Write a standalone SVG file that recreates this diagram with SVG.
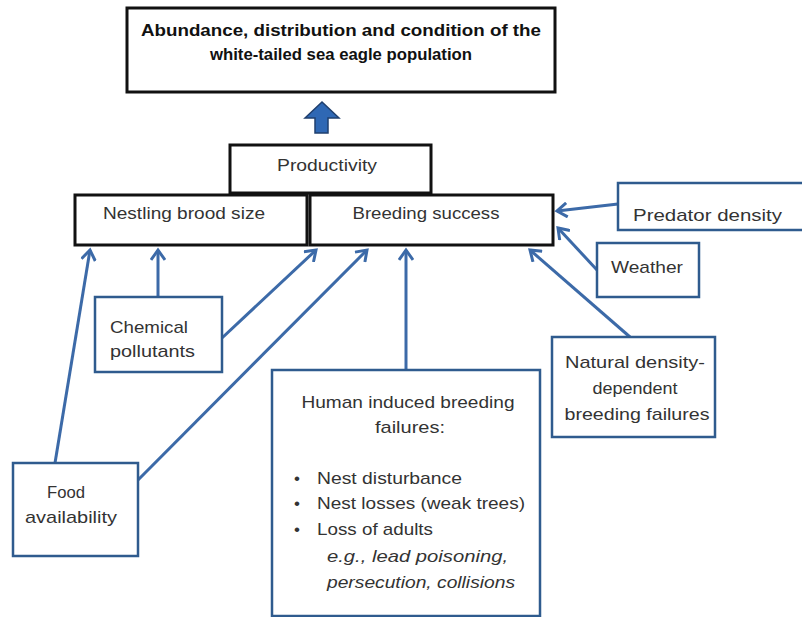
<svg xmlns="http://www.w3.org/2000/svg" width="802" height="617" viewBox="0 0 802 617">
<defs>
<style>
.t{font-family:"Liberation Sans",Arial,sans-serif;font-size:17px;fill:#333}
.b{font-weight:bold;fill:#111;font-size:16.5px}
.i{font-style:italic}
.blk{fill:#fff;stroke:#111;stroke-width:3}
.inp{fill:#fff;stroke:#2f5b8e;stroke-width:2.5}
.con{fill:none;stroke:#3c6aa8;stroke-width:3}
</style>
<marker id="ah" markerUnits="userSpaceOnUse" markerWidth="14" markerHeight="16" refX="11" refY="8" orient="auto" viewBox="0 0 14 16">
<path d="M1,1 L11,8 L1,15" fill="none" stroke="#3c6aa8" stroke-width="3"/>
</marker>
</defs>
<rect width="802" height="617" fill="#fff"/>
<g id="connectors">
<line class="con" x1="55" y1="463" x2="90" y2="250" marker-end="url(#ah)"/>
<line class="con" x1="138" y1="480" x2="367" y2="250" marker-end="url(#ah)"/>
<line class="con" x1="158" y1="297" x2="158" y2="250" marker-end="url(#ah)"/>
<line class="con" x1="222" y1="338" x2="316" y2="250" marker-end="url(#ah)"/>
<line class="con" x1="406" y1="370" x2="406" y2="250" marker-end="url(#ah)"/>
<line class="con" x1="630" y1="337" x2="530" y2="250" marker-end="url(#ah)"/>
<line class="con" x1="597" y1="270" x2="558" y2="228" marker-end="url(#ah)"/>
<line class="con" x1="618" y1="204" x2="557" y2="211" marker-end="url(#ah)"/>
<polygon points="305,118 322,102 339,118 328,118 328,133 315,133 315,118" fill="#2f68b4" stroke="#1f3f6e" stroke-width="1.5"/>
</g>
<g id="population">
<rect class="blk" x="127" y="8" width="428" height="84"/>
<text class="t b" x="341" y="36" text-anchor="middle" textLength="400" lengthAdjust="spacingAndGlyphs">Abundance, distribution and condition of the</text>
<text class="t b" x="341" y="60" text-anchor="middle" textLength="262" lengthAdjust="spacingAndGlyphs">white-tailed sea eagle population</text>
</g>
<g id="productivity">
<rect class="blk" x="230" y="145" width="201" height="48"/>
<text class="t" x="327" y="171" text-anchor="middle" textLength="100" lengthAdjust="spacingAndGlyphs">Productivity</text>
</g>
<g id="nestling">
<rect class="blk" x="75" y="195" width="232" height="50"/>
<text class="t" x="184" y="219" text-anchor="middle" textLength="162" lengthAdjust="spacingAndGlyphs">Nestling brood size</text>
</g>
<g id="breeding">
<rect class="blk" x="310" y="195" width="243" height="50"/>
<text class="t" x="426" y="219" text-anchor="middle" textLength="147" lengthAdjust="spacingAndGlyphs">Breeding success</text>
</g>
<g id="predator">
<rect class="inp" x="618" y="183" width="190" height="47"/>
<text class="t" x="633" y="221" textLength="149" lengthAdjust="spacingAndGlyphs">Predator density</text>
</g>
<g id="weather">
<rect class="inp" x="597" y="243" width="102" height="54"/>
<text class="t" x="611" y="273" textLength="72" lengthAdjust="spacingAndGlyphs">Weather</text>
</g>
<g id="chemical">
<rect class="inp" x="95" y="297" width="127" height="75"/>
<text class="t" x="110" y="333" textLength="78" lengthAdjust="spacingAndGlyphs">Chemical</text>
<text class="t" x="110" y="357" textLength="85" lengthAdjust="spacingAndGlyphs">pollutants</text>
</g>
<g id="natural">
<rect class="inp" x="552" y="337" width="163" height="100"/>
<text class="t" x="635" y="368" text-anchor="middle" textLength="140" lengthAdjust="spacingAndGlyphs">Natural density-</text>
<text class="t" x="635" y="394" text-anchor="middle" textLength="85" lengthAdjust="spacingAndGlyphs">dependent</text>
<text class="t" x="637" y="420" text-anchor="middle" textLength="145" lengthAdjust="spacingAndGlyphs">breeding failures</text>
</g>
<g id="food">
<rect class="inp" x="13" y="463" width="125" height="93"/>
<text class="t" x="66" y="498" text-anchor="middle" textLength="38" lengthAdjust="spacingAndGlyphs">Food</text>
<text class="t" x="71" y="523" text-anchor="middle" textLength="92" lengthAdjust="spacingAndGlyphs">availability</text>
</g>
<g id="human">
<rect class="inp" x="272" y="370" width="268" height="246"/>
<text class="t" x="408" y="408" text-anchor="middle" textLength="213" lengthAdjust="spacingAndGlyphs">Human induced breeding</text>
<text class="t" x="410" y="433" text-anchor="middle" textLength="70" lengthAdjust="spacingAndGlyphs">failures:</text>
<text class="t" x="297" y="484" text-anchor="middle">•</text>
<text class="t" x="297" y="509" text-anchor="middle">•</text>
<text class="t" x="297" y="535" text-anchor="middle">•</text>
<text class="t" x="317" y="484" textLength="145" lengthAdjust="spacingAndGlyphs">Nest disturbance</text>
<text class="t" x="317" y="509" textLength="208" lengthAdjust="spacingAndGlyphs">Nest losses (weak trees)</text>
<text class="t" x="317" y="535" textLength="116" lengthAdjust="spacingAndGlyphs">Loss of adults</text>
<text class="t i" x="327" y="562" textLength="181" lengthAdjust="spacingAndGlyphs">e.g., lead poisoning,</text>
<text class="t i" x="327" y="588" textLength="188" lengthAdjust="spacingAndGlyphs">persecution, collisions</text>
</g>
</svg>
